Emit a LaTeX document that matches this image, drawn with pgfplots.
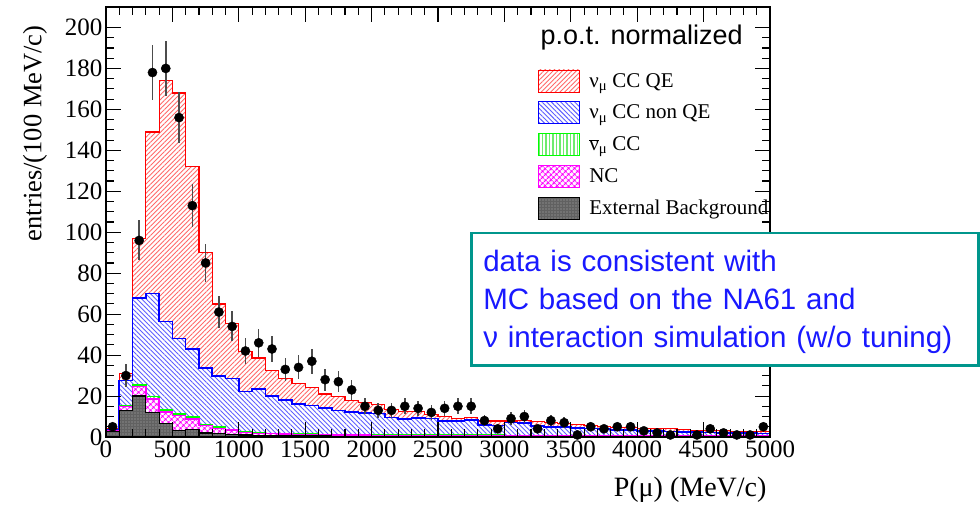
\documentclass[border=0pt]{standalone}
\usepackage{fontspec}
\setmainfont{Liberation Serif}
\setsansfont{Liberation Sans}
\usepackage{pgfplots}
\pgfplotsset{compat=1.18}
\usepackage{pgfplotstable}
\usetikzlibrary{patterns,patterns.meta}

\definecolor{hatchred}{RGB}{255,105,105}
\definecolor{hatchblue}{RGB}{95,95,255}
\definecolor{hatchgreen}{RGB}{110,235,110}
\definecolor{ncmag}{RGB}{255,0,255}
\definecolor{boxteal}{RGB}{0,150,140}
\definecolor{txtblue}{RGB}{25,25,255}

% cumulative stack tops, bin left edges (MeV/c)
\pgfplotstableread{
x tot blue green mag gray
0 4 3.6 3.3 3.2 2.8
100 31 27.5 15.5 15 13
200 97 68 25.4 24.6 20
300 149 70 19.7 18.5 12
400 174 56.4 13.2 12.2 6.5
500 168 48.2 11.2 10.5 3.2
600 132 42.9 9.8 8.8 3.6
700 90 33.6 6.2 5.5 2
800 65 29.8 4.9 4.2 1.8
900 55.6 28.5 3.8 3.5 1.2
1000 41.7 22.2 2.6 2.3 1.0
1100 38.6 23.3 2.1 1.8 0.9
1200 32.4 20 1.8 1.6 0.8
1300 28.5 18 1.6 1.4 0.6
1400 26 16.1 1.5 1.3 0.6
1500 24 15.4 1.4 1.2 0.5
1600 21 14.2 1.3 1.1 0.5
1700 19.7 13 1.2 1.0 0.4
1800 18 12.3 1.1 0.9 0.4
1900 16.8 11.7 1.0 0.9 0.4
2000 16 11.4 1.0 0.8 0.3
2100 13.5 9.5 0.9 0.7 0.3
2200 12.6 8.7 0.9 0.7 0.3
2300 12.5 9.3 0.9 0.7 0.3
2400 11 9 0.9 0.7 0.3
2500 10 7.8 0.9 0.7 0.3
2600 9 7.8 0.9 0.7 0.3
2700 9.5 8.3 0.9 0.7 0.3
2800 7.8 5.8 0.9 0.7 0.3
2900 7.8 5.6 0.9 0.7 0.3
3000 7.8 7 0.7 0.6 0.2
3100 8.2 6.7 0.7 0.6 0.2
3200 7.5 5.4 0.7 0.6 0.2
3300 7 4.9 0.7 0.6 0.2
3400 6.7 4.8 0.7 0.6 0.2
3500 6 4.3 0.7 0.6 0.2
3600 5.8 4.2 0.7 0.6 0.2
3700 5.2 3.8 0.7 0.6 0.2
3800 4.8 3.5 0.7 0.6 0.2
3900 4.6 3.3 0.7 0.6 0.2
4000 4.3 3.0 0.6 0.5 0.2
4100 4.2 2.9 0.6 0.5 0.2
4200 4.0 2.7 0.6 0.5 0.2
4300 3.5 2.4 0.6 0.5 0.2
4400 3.2 2.3 0.6 0.5 0.2
4500 3.0 2.2 0.6 0.5 0.2
4600 3.0 2.1 0.6 0.5 0.2
4700 2.8 2.0 0.6 0.5 0.2
4800 2.6 1.9 0.6 0.5 0.2
4900 2.5 1.8 0.6 0.5 0.2
5000 2.5 1.8 0.6 0.5 0.2
}\mc

% data: bin centre, counts, sqrt(N)
\pgfplotstableread{
x y e
50 5 2.24
150 30 5.48
250 96 9.80
350 178 13.34
450 180 13.42
550 156 12.49
650 113 10.63
750 85 9.22
850 61 7.81
950 54 7.35
1050 42 6.48
1150 46 6.78
1250 43 6.56
1350 33 5.74
1450 34 5.83
1550 37 6.08
1650 28 5.29
1750 27 5.20
1850 23 4.80
1950 15 3.87
2050 13 3.61
2150 13 3.61
2250 15 3.87
2350 14 3.74
2450 12 3.46
2550 14 3.74
2650 15 3.87
2750 15 3.87
2850 8 2.83
2950 4 2.00
3050 9 3.00
3150 10 3.16
3250 4 2.00
3350 8 2.83
3450 7 2.65
3550 1 1.00
3650 5 2.24
3750 4 2.00
3850 5 2.24
3950 5 2.24
4050 3 1.73
4150 2 1.41
4250 1 1.00
4450 1 1.00
4550 4 2.00
4650 2 1.41
4750 1 1.00
4850 1 1.00
4950 5 2.24
}\data

\begin{document}
\begin{tikzpicture}
\useasboundingbox (-106pt,-75pt) rectangle (874pt,437pt);
\begin{axis}[
  at={(0pt,0pt)}, anchor=south west,
  scale only axis, width=664pt, height=430pt,
  xmin=0, xmax=5000, ymin=0, ymax=210,
  xtick={0,500,...,5000}, ytick={0,20,...,200},
  minor x tick num=4, minor y tick num=3,
  major tick length=15pt, minor tick length=8pt,
  tick style={line width=1.1pt, black},
  axis line style={line width=1.3pt},
  axis on top,
  scaled ticks=false,
  /pgf/number format/assume math mode=true,
  /pgf/number format/1000 sep={},
  ticklabel style={font=\fontsize{25}{29}\selectfont},
  xlabel={P(μ) (MeV/c)},
  ylabel={entries/(100 MeV/c)},
  xlabel style={font=\fontsize{28}{32}\selectfont, at={(axis description cs:1,-0.123)}, anchor=east},
  ylabel style={font=\fontsize{26.5}{30}\selectfont, at={(axis description cs:-0.107,0.965)}, anchor=east},
  legend cell align=left,
  legend image code/.code={\draw[#1, line width=0.8pt] (0pt,-11pt) rectangle (41pt,11pt);},
  legend style={draw=none, fill=none, at={(rel axis cs:0.651,0.855)}, anchor=north west,
    inner sep=0pt, row sep=9pt, font=\fontsize{21}{24}\selectfont,
    /tikz/every odd column/.append style={column sep=7pt}},
]
\addplot[const plot, draw=red, line width=1.2pt, fill=white,
  postaction={pattern={Lines[angle=45,distance=3.3pt,line width=0.9pt]}, pattern color=hatchred}]
  table[x=x,y=tot]{\mc} \closedcycle;
\addlegendentry{ν\textsubscript{μ} CC QE}
\addplot[const plot, draw=blue, line width=1.6pt, fill=white,
  postaction={pattern={Lines[angle=-45,distance=3.3pt,line width=0.9pt]}, pattern color=hatchblue}]
  table[x=x,y=blue]{\mc} \closedcycle;
\addlegendentry{ν\textsubscript{μ} CC non QE}
\addplot[const plot, draw=green, line width=1.4pt, fill=white,
  postaction={pattern={Lines[angle=90,distance=3.5pt,line width=1.1pt]}, pattern color=hatchgreen}]
  table[x=x,y=green]{\mc} \closedcycle;
\addlegendentry{$\overline{\mbox{ν}}$\textsubscript{μ} CC}
\addplot[const plot, draw=ncmag, line width=1.4pt, fill=white,
  postaction={pattern={Hatch[angle=45,distance=4pt,line width=1.1pt]}, pattern color=ncmag}]
  table[x=x,y=mag]{\mc} \closedcycle;
\addlegendentry{NC}
\addplot[const plot, draw=black, line width=1.2pt, fill=black!62,
  postaction={pattern={Dots[distance=3pt,radius=0.55pt]}, pattern color=white!70!black}]
  table[x=x,y=gray]{\mc} \closedcycle;
\addlegendentry{External Background}
\addplot[forget plot, only marks, mark=*, mark size=4.6pt, black,
  error bars/.cd, y dir=both, y explicit, error mark=none,
  error bar style={line width=1.5pt, black!70}]
  table[x=x,y=y,y error=e]{\data};
\end{axis}
\node[anchor=west, font=\sffamily\fontsize{27}{31}\selectfont] at (431pt,399pt) {p.o.t. normalized};
\node[draw=boxteal, line width=2.5pt, fill=white, anchor=north west,
  minimum height=132pt, text width=483pt, inner xsep=12pt, align=left,
  font=\sffamily\fontsize{29.5}{38}\selectfont, text=txtblue]
  at (364pt,205pt) {\rule{0pt}{26pt}data is consistent with\\MC based on the NA61 and\\ν interaction simulation (w/o tuning)};
\end{tikzpicture}
\end{document}
